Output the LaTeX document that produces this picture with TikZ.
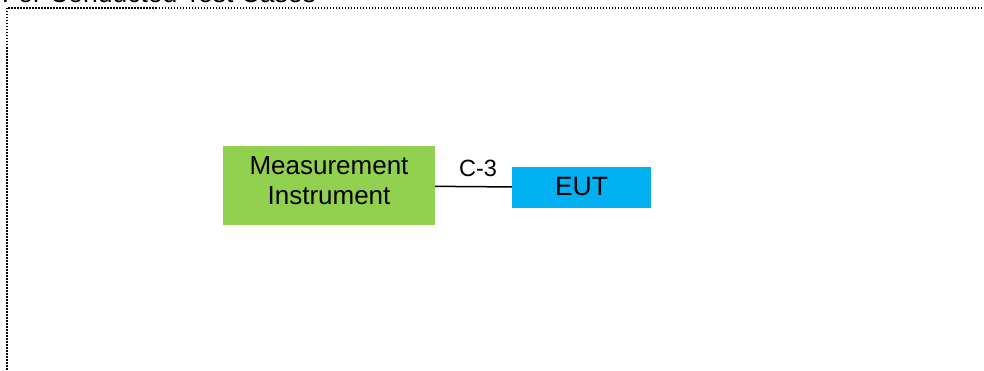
\documentclass[tikz,border=0pt]{standalone}
\usepackage{fontspec}
\setmainfont{Liberation Sans}
\usepackage{tikz}
\definecolor{mgreen}{HTML}{92D050}
\definecolor{eblue}{HTML}{00B0F0}
\tikzset{
	unitbox/.style={inner sep=0pt, align=center, font=\fontsize{26}{30}\selectfont},
	framedots/.style={line width=1.2pt, dash pattern=on 1.5pt off 1.5pt},
}

\begin{document}
\begin{tikzpicture}[x=1pt, y=-1pt]
			%%%%% START %%%%%
			\useasboundingbox (0, 0) rectangle (984, 371);
			
			\draw[framedots] (994, 8) -- (7, 8) -- (7, 381);
			\node[anchor=base west, inner sep=0pt, font=\fontsize{26.5}{30}\selectfont] (title) at (2, 3) {For Conducted Test Cases};
			
			\node[unitbox, fill=mgreen, minimum width=212pt, minimum height=79pt, text depth=9pt] (meas) at (329, 185.5) {Measurement\\Instrument};
			\node[unitbox, fill=eblue, minimum width=139pt, minimum height=41pt, text depth=3pt, font=\fontsize{26.5}{30}\selectfont] (eut) at (581.5, 187.5) {EUT};
			
			\draw[line width=1.5pt] (meas) -- (eut);
			\node[inner sep=0pt, font=\fontsize{23.5}{28}\selectfont] (cable) at (478, 168.5) {C-3};
			
			%%%%% END %%%%%
\end{tikzpicture}
\end{document}
